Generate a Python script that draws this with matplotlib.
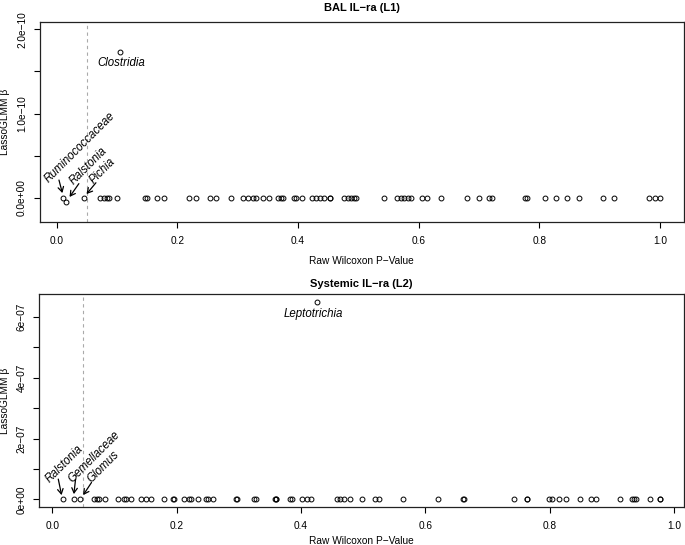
import numpy as np
import matplotlib
matplotlib.use('Agg')
from matplotlib import pyplot as plt

plt.rcParams['font.family'] = ['Liberation Sans', 'DejaVu Sans']

# --- BAL IL-ra (L1) ---
bal_zero_p = [
    0.0712, 0.0778, 0.0828, 0.0861, 0.0998, 0.1462, 0.1495, 0.1656, 0.1776,
    0.2197, 0.2313, 0.2538, 0.2644, 0.2897, 0.3091, 0.3167, 0.3250, 0.3295,
    0.3427, 0.3515, 0.3675, 0.3720, 0.3758, 0.3940, 0.3969, 0.4061, 0.4227,
    0.4293, 0.4371, 0.4437, 0.4525, 0.4536, 0.4768, 0.4823, 0.4879, 0.4922,
    0.4967, 0.5430, 0.5641, 0.5707, 0.5762, 0.5816, 0.5877, 0.6055, 0.6137,
    0.6374, 0.6800, 0.6998, 0.7157, 0.7214, 0.7753, 0.7793, 0.8084, 0.8273,
    0.8455, 0.8654, 0.9061, 0.9228, 0.9823, 0.9917, 1.0,
]
bal_taxa = ['Ruminococcaceae', 'Ralstonia', 'Pichia', 'Clostridia']
bal_taxa_p = [0.0111, 0.0159, 0.045, 0.105]
bal_taxa_beta = [0.0, -4.5e-12, 0.0, 1.734e-10]
bal_ylim = (-0.2e-10, 2.0e-10)
bal_yticks = [0.0, 0.5e-10, 1.0e-10, 1.5e-10, 2.0e-10]
bal_yticklabels = ['0.0e+00', '', '1.0e\u221210', '', '2.0e\u221210']

# --- Systemic IL-ra (L2) ---
sys_zero_p = [
    0.0676, 0.0715, 0.0752, 0.0849, 0.1063, 0.1155, 0.1187, 0.1262, 0.1428,
    0.1504, 0.1589, 0.1804, 0.1945, 0.1955, 0.2126, 0.2206, 0.2229, 0.2351,
    0.2475, 0.2512, 0.2583, 0.2958, 0.2979, 0.3253, 0.3280, 0.3591, 0.3595,
    0.3602, 0.3828, 0.3860, 0.4016, 0.4097, 0.4161, 0.4580, 0.4622, 0.4686,
    0.4783, 0.4982, 0.5197, 0.5261, 0.5636, 0.6206, 0.6615, 0.6620, 0.7424,
    0.7636, 0.7642, 0.7993, 0.8035, 0.8155, 0.8272, 0.8486, 0.8659, 0.8740,
    0.9130, 0.9330, 0.9356, 0.9388, 0.9613, 0.9772, 0.9778,
]
sys_taxa = ['Ralstonia', 'Gemellaceae', 'Glomus', 'Leptotrichia']
sys_taxa_p = [0.0177, 0.0349, 0.0446, 0.4258]
sys_taxa_beta = [0.0, 0.0, 0.0, 6.50e-7]
sys_yticks = [0, 1e-7, 2e-7, 3e-7, 4e-7, 5e-7, 6e-7]
sys_yticklabels = ['0e+00', '', '2e\u221207', '', '4e\u221207', '', '6e\u221207']

xticks = [0.0, 0.2, 0.4, 0.6, 0.8, 1.0]
p_cut = 0.05

# label placement, pixel offsets from the point: (text, arrow tail, arrow tip)
bal_offsets = {
    'Ruminococcaceae': ((-15, 15), (-3.4, 13), (-1, 4.7)),
    'Ralstonia': ((7, 16.3), (9.3, 13.3), (3.3, 4.6)),
    'Pichia': ((10, 13.7), (9.4, 11.3), (2.7, 3.7)),
}
sys_offsets = {
    'Ralstonia': ((-13.3, 16), (-3.3, 16), (-1.6, 4.3)),
    'Gemellaceae': ((-1.3, 16), (1.7, 15), (0, 5.3)),
    'Glomus': ((11.7, 16), (8.3, 12.6), (3.3, 4.3)),
}
below_offset = {'Clostridia': (1.5, -11.7), 'Leptotrichia': (-3.4, -12.3)}


def r_lim(lo, hi):
    # R style 4% padding
    d = (hi - lo) * 0.04
    return lo - d, hi + d


def draw_panel(ax, title, title_y, zero_p, taxa, taxa_p, taxa_beta, offsets,
               yticks, yticklabels):
    all_p = list(zero_p) + list(taxa_p)
    all_b = [0.0] * len(zero_p) + list(taxa_beta)
    ax.plot(all_p, all_b, 'o', mfc='none', mec='black', ms=3.5, mew=0.7,
            linestyle='none', zorder=3)
    ax.axvline(p_cut, color='#aaaaaa', lw=0.8, ls=(0, (3, 3)), zorder=1)

    for name, p, b in zip(taxa, taxa_p, taxa_beta):
        if name in offsets:
            txt, tail, tip = offsets[name]
            ax.annotate(name, xy=(p, b), xytext=txt, textcoords='offset pixels',
                        rotation=45, rotation_mode='anchor', ha='left',
                        va='baseline', fontsize=8.3, style='italic')
            t0 = ax.transData.transform((p, b))
            tip_d = ax.transData.inverted().transform((t0[0] + tip[0], t0[1] + tip[1]))
            ax.annotate('', xy=tip_d, xytext=tail, textcoords='offset pixels',
                        arrowprops=dict(arrowstyle='->,head_length=0.35,head_width=0.2',
                                        color='black', lw=0.9, shrinkA=0, shrinkB=0))
        else:
            ax.annotate(name, xy=(p, b), xytext=below_offset[name],
                        textcoords='offset pixels', ha='center', va='center',
                        fontsize=8.3, style='italic')

    ax.set_xticks(xticks)
    ax.set_xticklabels(['%.1f' % v for v in xticks])
    ax.set_yticks(yticks)
    ax.set_yticklabels(yticklabels, rotation=90, va='center')
    ax.tick_params(axis='both', direction='out', length=4.3, width=0.8,
                   labelsize=7.3, colors='black')
    ax.tick_params(axis='x', pad=5.8)
    ax.tick_params(axis='y', pad=4.7)
    for s in ax.spines.values():
        s.set_linewidth(0.9)
        s.set_color('#222222')
    ax.text(0.5, title_y, title, transform=ax.transAxes, ha='center',
            va='center', fontsize=8, fontweight='bold')
    ax.set_xlabel('Raw Wilcoxon P\u2212Value', fontsize=7.3)
    ax.set_ylabel('LassoGLMM \u03b2', fontsize=7.3)


W, H = 685, 545
fig = plt.figure(figsize=(W / 100, H / 100), dpi=100)
ax1 = fig.add_axes([39.5 / W, 1 - 222 / H, (684 - 39.5) / W, 200 / H])
ax2 = fig.add_axes([39.3 / W, 1 - 507.3 / H, (684 - 39.3) / W, 213.3 / H])

# set limits first so pixel offsets for arrows are right
ax1.set_xlim(*r_lim(min(bal_zero_p + bal_taxa_p), max(bal_zero_p + bal_taxa_p)))
ax1.set_ylim(*r_lim(*bal_ylim))
sys_b = [0.0] + sys_taxa_beta
ax2.set_xlim(*r_lim(min(sys_zero_p + sys_taxa_p), max(sys_zero_p + sys_taxa_p)))
ax2.set_ylim(*r_lim(min(sys_b), max(sys_b)))

draw_panel(ax1, 'BAL IL\u2212ra (L1)', 1.072, bal_zero_p, bal_taxa, bal_taxa_p,
           bal_taxa_beta, bal_offsets, bal_yticks, bal_yticklabels)
draw_panel(ax2, 'Systemic IL\u2212ra (L2)', 1.047, sys_zero_p, sys_taxa, sys_taxa_p,
           sys_taxa_beta, sys_offsets, sys_yticks, sys_yticklabels)

ax1.xaxis.set_label_coords(0.5, -0.17)
ax2.xaxis.set_label_coords(0.5, -0.134)
for ax in (ax1, ax2):
    ax.yaxis.set_label_coords(-0.0535, 0.5)
    ax.yaxis.label.set_va('center')

fig.savefig('out.png', dpi=100)
